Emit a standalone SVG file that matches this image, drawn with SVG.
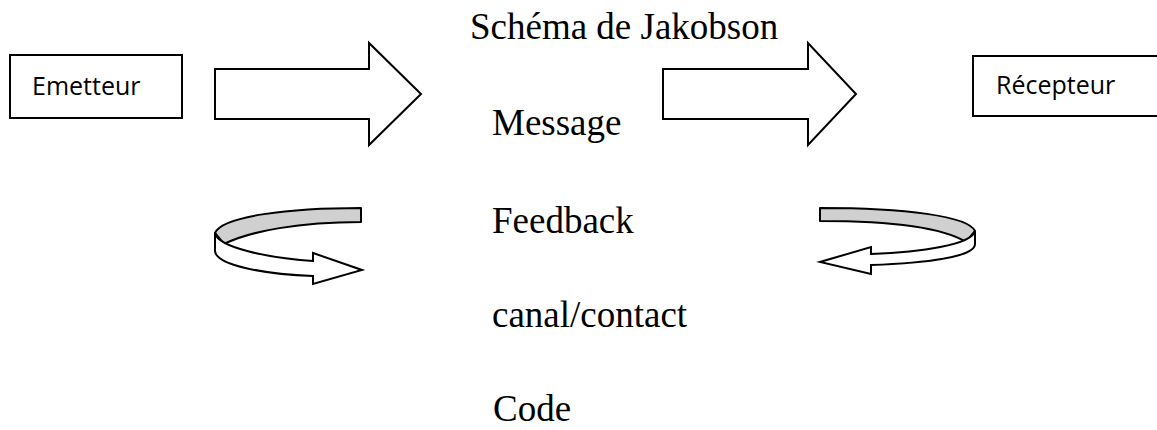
<svg xmlns="http://www.w3.org/2000/svg" width="1157" height="430" viewBox="0 0 1157 430">
  <style>
    .box { fill: #ffffff; stroke: #000000; stroke-width: 2; }
    .block { fill: #ffffff; stroke: #000000; stroke-width: 2; stroke-linejoin: miter; }
    .band-back { fill: #d0d0d0; stroke: #000000; stroke-width: 2; stroke-linejoin: round; }
    .band-front { fill: #ffffff; stroke: #000000; stroke-width: 2; stroke-linejoin: miter; }
    .label { font-family: "Open Sans", "Liberation Sans", sans-serif; font-size: 25px; fill: #000000; }
    .term { font-family: "Liberation Serif", "Times New Roman", serif; font-size: 37px; fill: #000000; }
  </style>
  <rect width="1157" height="430" fill="#ffffff"/>

  <!-- title -->
  <text class="term" x="470" y="39">Schéma de Jakobson</text>

  <!-- sender -->
  <g id="emetteur">
    <rect class="box" x="10" y="55" width="172" height="63"/>
    <text class="label" x="32" y="95">Emetteur</text>
  </g>

  <!-- receiver (box runs off the right edge) -->
  <g id="recepteur">
    <rect class="box" x="973" y="56" width="200" height="60"/>
    <text class="label" x="996" y="94">Récepteur</text>
  </g>

  <!-- central terms -->
  <g id="message"><text class="term" x="492" y="135">Message</text></g>
  <g id="feedback"><text class="term" x="492" y="233">Feedback</text></g>
  <g id="canal"><text class="term" x="492" y="327">canal/contact</text></g>
  <g id="code"><text class="term" x="493" y="421">Code</text></g>

  <g id="connectors">
    <!-- block arrows toward the receiver -->
    <path class="block" d="M215,69 L369,69 L369,43 L421,94 L369,145 L369,119 L215,119 Z"/>
    <path class="block" d="M663,69 L808,69 L808,43 L856,94 L808,145 L808,119 L663,119 Z"/>

    <!-- left curved return arrow -->
    <g id="loop-left">
      <path class="band-back" d="M361,208 C290,208 222,216 215,233 L224,244 C250,231 300,222 361,222 Z"/>
      <path class="band-front" d="M215,233 C218,248 270,258 313,261 L313,253 L362,270 L313,284 L313,276 C262,274 216,265 215,251 Z"/>
    </g>

    <!-- right curved return arrow -->
    <g id="loop-right">
      <path class="band-back" d="M820,208 C905,208 968,216 975,231 L966,242 C945,229 900,221 820,221 Z"/>
      <path class="band-front" d="M975,231 C972,245 920,252 871,254 L871,247 L820,262 L871,274 L871,265 C925,263 975,257 975,244 Z"/>
    </g>
  </g>
</svg>
